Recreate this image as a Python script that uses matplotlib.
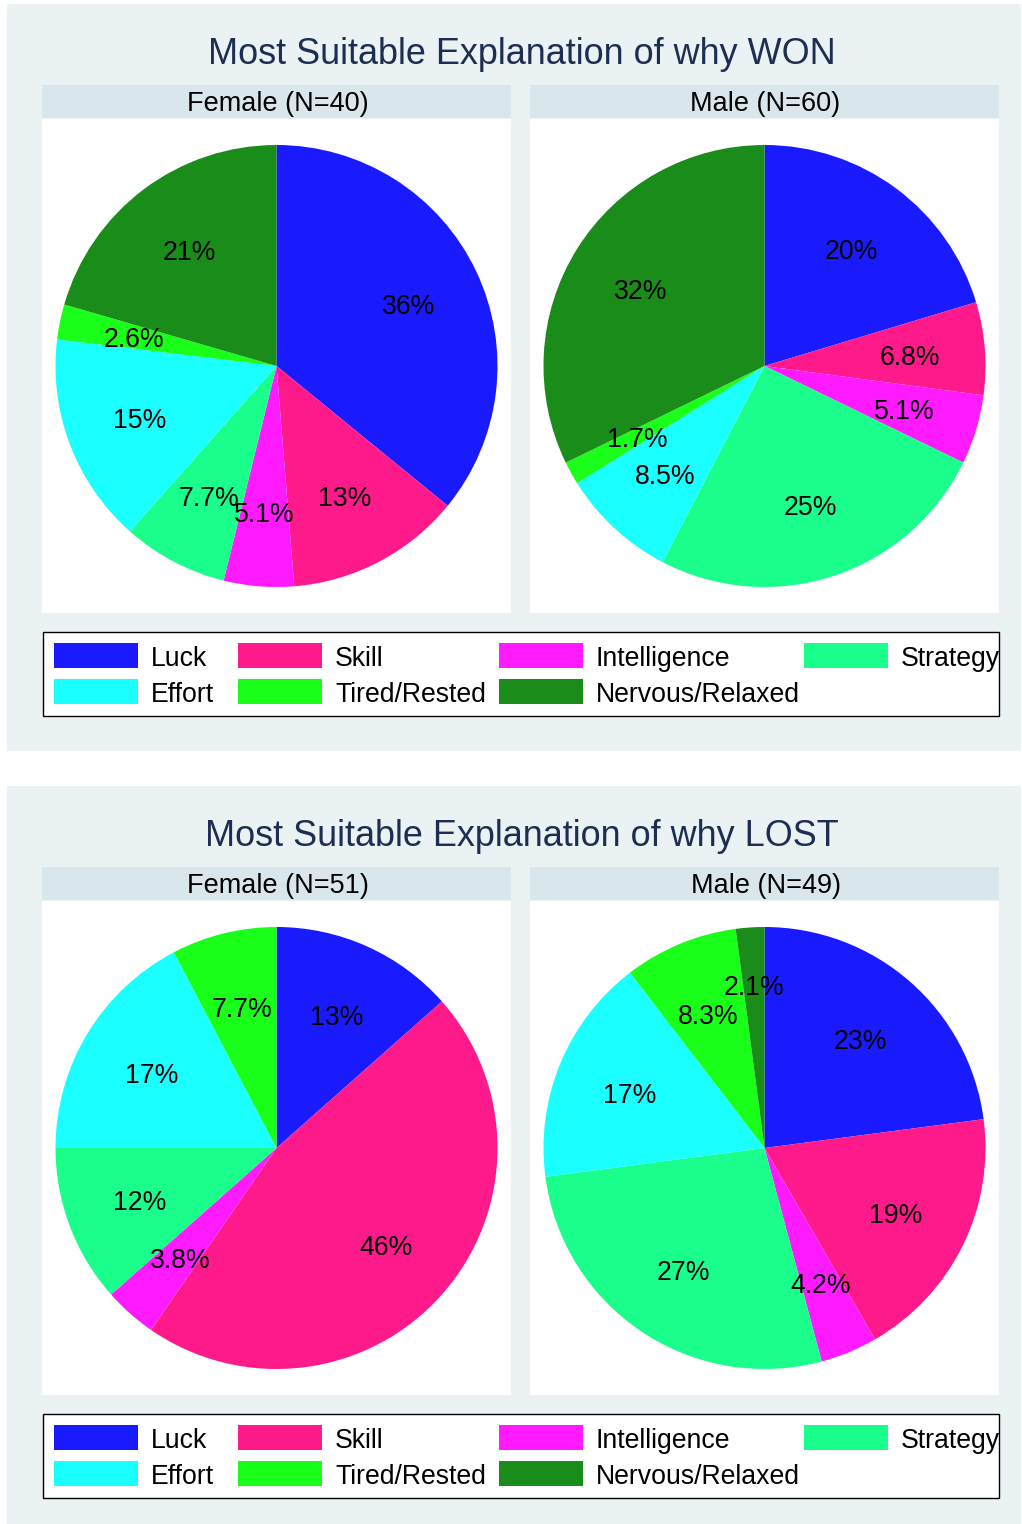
import matplotlib
matplotlib.use("Agg")
import matplotlib.pyplot as plt
from matplotlib.patches import Rectangle

# ---- data -------------------------------------------------------------
categories = ["Luck", "Skill", "Intelligence", "Strategy",
              "Effort", "Tired/Rested", "Nervous/Relaxed"]
colors = ["#1a1aff", "#ff1a8c", "#ff1aff", "#1aff8c",
          "#1affff", "#1aff1a", "#1a8c1a"]

# respondent counts per explanation (same order as categories)
won_female = [14, 5, 2, 3, 6, 1, 8]
won_male = [12, 4, 3, 15, 5, 1, 19]
lost_female = [7, 24, 2, 6, 9, 4, 0]
lost_male = [11, 9, 2, 13, 8, 4, 1]

panel_titles = ["Most Suitable Explanation of why WON",
                "Most Suitable Explanation of why LOST"]
won_headers = ["Female (N=40)", "Male (N=60)"]
lost_headers = ["Female (N=51)", "Male (N=49)"]

# ---- figure / layout helpers -----------------------------------------
W, H = 1022, 1524
DPI = 100
FONT = "Liberation Sans"
BG = "#eaf2f3"
STRIP = "#d9e6eb"
TITLE_COLOR = "#1e2d52"
LABEL_DIST = 0.66

fig = plt.figure(figsize=(W / DPI, H / DPI), dpi=DPI, facecolor="white")


def frac_box(left, top, w, h):
    return [left / W, 1 - (top + h) / H, w / W, h / H]


def add_rect(left, top, w, h, face, edge="none", lw=0, z=-2):
    x, y, fw, fh = frac_box(left, top, w, h)
    fig.add_artist(Rectangle((x, y), fw, fh, transform=fig.transFigure,
                             facecolor=face, edgecolor=edge, linewidth=lw,
                             zorder=z))


def fig_text(x, y, s, **kw):
    fig.text(x / W, 1 - y / H, s, ha="center", va="center",
             family=FONT, zorder=3, **kw)


RADIUS_PX = 221.0
PLOT_W, PLOT_H = 469, 494


def draw_pie(left, top, counts, label_dist=None):
    """label_dist: optional {category: radial distance} for crowded labels."""
    label_dist = label_dist or {}
    keep = [i for i, c in enumerate(counts) if c > 0]
    vals = [counts[i] for i in keep]
    cols = [colors[i] for i in keep]
    ax = fig.add_axes(frac_box(left, top, PLOT_W, PLOT_H), zorder=5)
    _, _, autotexts = ax.pie(
        vals, colors=cols, startangle=90, counterclock=False, radius=1,
        autopct=lambda p: f"{p:.2g}%", pctdistance=LABEL_DIST,
        wedgeprops=dict(linewidth=0.4, edgecolor="none"),
        textprops=dict(fontsize=19.2, family=FONT, color="black"))
    for i, t in zip(keep, autotexts):
        x, y = t.get_position()
        scale = label_dist.get(categories[i], LABEL_DIST) / LABEL_DIST
        # nudge percentage labels slightly below their anchor
        t.set_position((x * scale, y * scale - 3.5 / RADIUS_PX))
    ax.set_aspect("auto")
    ax.set_xlim(-PLOT_W / 2 / RADIUS_PX, PLOT_W / 2 / RADIUS_PX)
    ax.set_ylim(-PLOT_H / 2 / RADIUS_PX, PLOT_H / 2 / RADIUS_PX)
    ax.axis("off")


def draw_legend(left, top):
    w, h = 958, 85
    ax = fig.add_axes(frac_box(left, top, w, h), zorder=5)
    ax.set_xlim(0, w)
    ax.set_ylim(h, 0)
    ax.axis("off")
    ax.add_patch(Rectangle((0.5, 0.5), w - 1, h - 1, facecolor="white",
                           edgecolor="black", linewidth=1.0, clip_on=False))
    col_x = [12, 196, 457, 762]
    row_y = [12, 48]
    for i, (name, col) in enumerate(zip(categories, colors)):
        r, c = divmod(i, 4)
        ax.add_patch(Rectangle((col_x[c], row_y[r]), 84, 25,
                               facecolor=col, edgecolor="none"))
        ax.text(col_x[c] + 97, row_y[r] + 15.5, name, ha="left",
                va="center", fontsize=19.2, family=FONT, color="black")


def draw_panel(offset, title, headers, pies):
    add_rect(7, 4 + offset, 1014, 747, BG, z=-3)
    fig_text(522, 54.5 + offset, title, fontsize=25.9, color=TITLE_COLOR)
    for left, header, (counts, ldist) in zip([42, 530], headers, pies):
        add_rect(left, 85 + offset, PLOT_W, 33, STRIP)
        add_rect(left, 119 + offset, PLOT_W, PLOT_H, "white")
        fig_text(left + PLOT_W / 2 + 1, 104 + offset, header, fontsize=19.5,
                 color="black")
        draw_pie(left, 119 + offset, counts, ldist)
    draw_legend(42, 631 + offset)


draw_panel(0, panel_titles[0], won_headers,
           [(won_female, None), (won_male, None)])
draw_panel(782, panel_titles[1], lost_headers,
           [(lost_female, None), (lost_male, {"Nervous/Relaxed": 0.74})])

fig.savefig("out.png", dpi=DPI, facecolor="white")
